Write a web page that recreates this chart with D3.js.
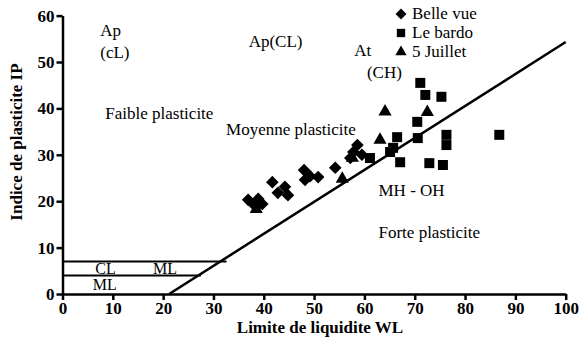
<!DOCTYPE html>
<html>
<head>
<meta charset="utf-8">
<style>
  body { margin: 0; background: #fff; }
  svg text { font-family: "Liberation Serif", "Times New Roman", "DejaVu Serif", serif !important; fill: #000; }
  .axis .domain { stroke: #000; stroke-width: 2.5; }
  .axis .tick line { stroke: #000; stroke-width: 2.5; }
  .axis .tick text { font-size: 17px; font-weight: bold; }
  .note { font-size: 17px; }
  .small { font-size: 16px; }
  .title { font-size: 17px; font-weight: bold; }
</style>
</head>
<body>
<svg width="587" height="343"></svg>
<script src="https://d3js.org/d3.v7.min.js"></script>
<script>
// data: [WL, IP]
let belleVue = [[36.9,20.3],[37.9,19.4],[38.5,18.8],[39.7,19.4],[38.9,20.5],[41.7,24.1],[42.8,21.8],
  [44.2,23.1],[44.8,21.3],[48.0,26.7],[49.2,25.4],[50.8,25.2],[54.2,27.2],[48.2,24.6],
  [58.6,32.1],[57.8,30.6],[57.2,29.3],[59.5,30.0]]
let leBardo = [[71.1,45.5],[72.1,42.9],[75.3,42.5],[70.5,37.1],[66.5,33.8],[65.7,31.5],[65.1,30.6],
  [70.6,33.6],[61.1,29.3],[67.1,28.4],[72.9,28.2],[75.6,27.8],[76.3,34.3],[76.3,32.1],[86.8,34.3]]
let juillet = [[64.1,39.3],[72.5,39.2],[63.1,33.2],[55.6,24.8],[38.5,18.3],[57.6,29.3]]

let aLine = [[21.2,0],[100,54.3]]
let limits = [{ip:7, from:0, to:32.6},{ip:4, from:0, to:27.5}]

let xTicks = [0,10,20,30,40,50,60,70,80,90,100]
let yTicks = [0,10,20,30,40,50,60]

let notes = [
  {t:"Ap", x:7.5, y:55.5}, {t:"(cL)", x:7.5, y:50.8},
  {t:"Ap(CL)", x:37, y:53.3},
  {t:"At", x:58, y:51.2}, {t:"(CH)", x:60.5, y:46.6},
  {t:"Faible plasticite", x:8.5, y:37.8},
  {t:"Moyenne plasticite", x:32.5, y:34.3},
  {t:"MH - OH", x:62.8, y:21.2},
  {t:"Forte plasticite", x:62.8, y:12.0}
]
let zoneNotes = [{t:"CL", x:6.5, y:4.3}, {t:"ML", x:18, y:4.3}, {t:"ML", x:6, y:0.8}]
let legend = [{name:"Belle vue", sym:"diamond"}, {name:"Le bardo", sym:"square"}, {name:"5 Juillet", sym:"triangle"}]

let svg = d3.select("svg")
let x = d3.scaleLinear().domain([0,100]).range([62.5,565.7])
let y = d3.scaleLinear().domain([0,60]).range([294,15.6])

svg.append("g").attr("class","axis")
  .attr("transform","translate(0,"+y(0)+")")
  .call(d3.axisBottom(x).tickValues(xTicks).tickSize(6).tickSizeOuter(0).tickPadding(2))
svg.append("g").attr("class","axis")
  .attr("transform","translate("+x(0)+",0)")
  .call(d3.axisLeft(y).tickValues(yTicks).tickSize(6).tickSizeOuter(0).tickPadding(2))

// classification lines
svg.append("line")
  .attr("x1",x(aLine[0][0])).attr("y1",y(aLine[0][1]))
  .attr("x2",x(aLine[1][0])).attr("y2",y(aLine[1][1]))
  .attr("stroke","#000").attr("stroke-width",2.5)
svg.selectAll(".lim").data(limits).join("line")
  .attr("x1",d=>x(d.from)).attr("x2",d=>x(d.to))
  .attr("y1",d=>y(d.ip)).attr("y2",d=>y(d.ip))
  .attr("stroke","#000").attr("stroke-width",2)

svg.append("g").selectAll("text").data(notes).join("text")
  .attr("class","note")
  .attr("x",d=>x(d.x)).attr("y",d=>y(d.y))
  .text(d=>d.t)
svg.append("g").selectAll("text").data(zoneNotes).join("text")
  .attr("class","small")
  .attr("x",d=>x(d.x)).attr("y",d=>y(d.y))
  .text(d=>d.t)

let symbols = {
  diamond: s => d3.symbol().type(d3.symbolSquare).size(s)(),
  square: s => d3.symbol().type(d3.symbolSquare).size(s)(),
  triangle: s => d3.symbol().type(d3.symbolTriangle).size(s)()
}
function drawPts(data, kind, size) {
  svg.append("g").selectAll("path").data(data).join("path")
    .attr("d", symbols[kind](size))
    .attr("transform", d => "translate("+x(d[0])+","+y(d[1])+")" + (kind==="diamond" ? " rotate(45)" : ""))
    .attr("fill","#000")
}
drawPts(belleVue, "diamond", 80)
drawPts(leBardo, "square", 100)
drawPts(juillet, "triangle", 75)

let lg = svg.append("g").selectAll("g").data(legend).join("g")
  .attr("transform",(d,i)=>"translate(401,"+(14+i*19)+")")
lg.append("path")
  .attr("d",d=>symbols[d.sym](d.sym==="square"?70:d.sym==="triangle"?55:60))
  .attr("transform",d=>d.sym==="diamond"?"rotate(45)":null)
  .attr("fill","#000")
lg.append("text").attr("class","note").attr("x",11).attr("y",5).text(d=>d.name)

svg.append("text").attr("class","title")
  .attr("x",320).attr("y",333).attr("text-anchor","middle")
  .text("Limite de liquidite WL")
svg.append("text").attr("class","title")
  .attr("transform","translate(22,142) rotate(-90)")
  .attr("text-anchor","middle")
  .text("Indice de plasticite IP")
</script>
</body>
</html>
